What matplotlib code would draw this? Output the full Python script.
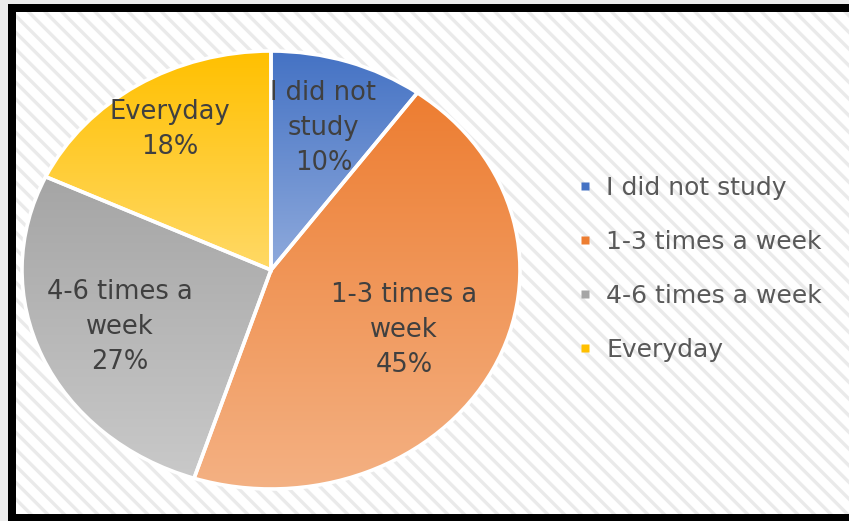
import numpy as np
import matplotlib
matplotlib.use("Agg")
import matplotlib.pyplot as plt
from matplotlib.patches import Rectangle
from matplotlib.lines import Line2D
from matplotlib.colors import LinearSegmentedColormap

categories = ["I did not study", "1-3 times a week", "4-6 times a week", "Everyday"]
label_text = ["I did not\nstudy", "1-3 times a\nweek", "4-6 times a\nweek", "Everyday"]
values = [10, 45, 27, 18]
top_colors = ["#4472C4", "#ED7D31", "#A5A5A5", "#FFC000"]
bottom_colors = ["#8FAADC", "#F4B183", "#C9C9C9", "#FFD966"]

plt.rcParams["font.family"] = ["DejaVu Sans"]
plt.rcParams["hatch.linewidth"] = 2.4

W, H = 849, 521
fig = plt.figure(figsize=(W / 100, H / 100), dpi=100)
fig.patch.set_facecolor("#ededed")

# background: black frame + striped panel
bg = fig.add_axes([0, 0, 1, 1])
bg.set_xlim(0, W)
bg.set_ylim(H, 0)
bg.axis("off")
bg.add_patch(Rectangle((8, 4), W - 8, H - 4, facecolor="black", linewidth=0))
bg.add_patch(Rectangle((16, 12), W - 16, 502, facecolor="white",
                       edgecolor="#eaeaea", hatch="\\\\", linewidth=0))

# pie (stretched horizontally like the reference)
cx, cy, rx, ry = 271, 270, 249, 219
ax = fig.add_axes([(cx - rx) / W, (H - cy - ry) / H, 2 * rx / W, 2 * ry / H])
wedges, _ = ax.pie(values, startangle=90, counterclock=False,
                   wedgeprops=dict(edgecolor="white", linewidth=2.6))

for w, c0, c1 in zip(wedges, top_colors, bottom_colors):
    ext = w.get_path().get_extents()
    cmap = LinearSegmentedColormap.from_list("g", [c0, c1])
    grad = np.linspace(0, 1, 256).reshape(-1, 1)
    im = ax.imshow(grad, cmap=cmap, extent=(ext.x0, ext.x1, ext.y0, ext.y1),
                   origin="upper", aspect="auto", zorder=1)
    im.set_clip_path(w)
    w.set_facecolor("none")
    w.set_zorder(2)

total = sum(values)
label_r = [0.68, 0.6, 0.66, 0.76]
for w, txt, v, r in zip(wedges, label_text, values, label_r):
    mid = np.deg2rad((w.theta1 + w.theta2) / 2)
    ax.text(r * np.cos(mid), r * np.sin(mid), f"{txt}\n{v / total:.0%}",
            ha="center", va="center", fontsize=18.5, color="#404040",
            linespacing=1.45, zorder=3)

ax.set_xlim(-1.0, 1.0)
ax.set_ylim(-1.0, 1.0)
ax.set_aspect("auto")
ax.axis("off")

handles = [Line2D([], [], marker="s", linestyle="none", markersize=6,
                  markerfacecolor=c, markeredgecolor="none") for c in top_colors]
fig.legend(handles, categories, loc="center left",
           bbox_to_anchor=(555 / W, 1 - 269 / H), frameon=False,
           fontsize=18, labelcolor="#595959", handlelength=0.6,
           handletextpad=0.55, labelspacing=1.2)

fig.savefig("out.png", dpi=100)
